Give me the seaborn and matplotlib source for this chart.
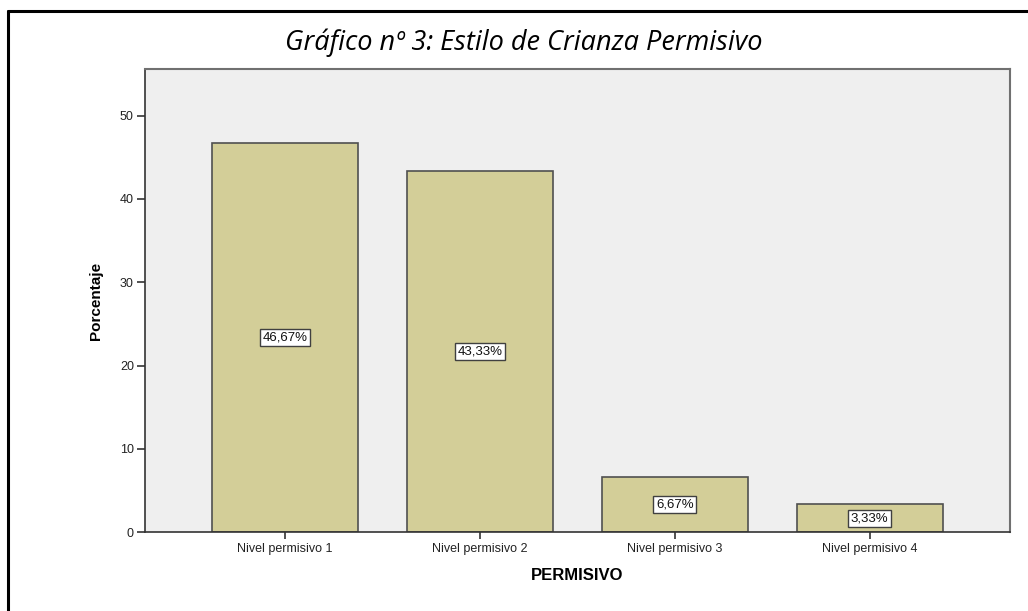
import matplotlib.pyplot as plt
import seaborn as sns
import pandas as pd
from matplotlib.lines import Line2D

categorias = ['Nivel permisivo 1', 'Nivel permisivo 2', 'Nivel permisivo 3', 'Nivel permisivo 4']
porcentajes = [46.67, 43.33, 6.67, 3.33]
etiquetas = ['46,67%', '43,33%', '6,67%', '3,33%']
yticks = [0, 10, 20, 30, 40, 50]

df = pd.DataFrame({'PERMISIVO': categorias, 'Porcentaje': porcentajes})

sns.set_style('white')
plt.rcParams['font.family'] = ['Liberation Sans', 'DejaVu Sans']

fig = plt.figure(figsize=(10.28, 6.11), dpi=100)
ax = fig.add_axes([0.141, 0.129, 0.8415, 0.758])
ax.set_facecolor('#efefef')

sns.barplot(data=df, x='PERMISIVO', y='Porcentaje', color='#d3ce98', width=0.75,
            saturation=1, edgecolor='#505050', linewidth=1.2, ax=ax)

#etiquetas en el centro de cada barra
for i, (v, t) in enumerate(zip(porcentajes, etiquetas)):
    ax.text(i, v / 2, t, ha='center', va='center', fontsize=9.5, color='#111111',
            bbox=dict(boxstyle='square,pad=0.2', facecolor='white', edgecolor='#404040', linewidth=1))

ax.set_xlim(-0.72, 3.72)
ax.set_ylim(0, 55.6)
ax.set_yticks(yticks)
ax.tick_params(axis='both', bottom=True, left=True, direction='out', length=6, width=1.2,
               color='#333333', labelsize=9, labelcolor='#222222')
ax.tick_params(axis='x', length=5, pad=3)
ax.tick_params(axis='y', pad=2)
for s in ['left', 'bottom']:
    ax.spines[s].set_color('#333333')
    ax.spines[s].set_linewidth(1.2)
for s in ['top', 'right']:
    ax.spines[s].set_color('#707070')
    ax.spines[s].set_linewidth(1.5)

ax.set_xlabel('PERMISIVO', fontsize=12, fontweight='bold', labelpad=9, color='black')
ax.set_ylabel('Porcentaje', fontsize=11, fontweight='bold', labelpad=12, color='black',
              family=['Liberation Sans Narrow', 'Liberation Sans'])

fig.text(0.509, 0.93, 'Gráfico nº 3: Estilo de Crianza Permisivo', ha='center', va='center',
         fontsize=19.5, style='italic', color='black', family=['Open Sans', 'DejaVu Sans'])

#marco exterior
fig.add_artist(Line2D([0.008, 0.008], [0, 0.982], color='black', linewidth=2.2))
fig.add_artist(Line2D([0.008, 1], [0.982, 0.982], color='black', linewidth=2.2))

fig.savefig('out.png', dpi=100)
